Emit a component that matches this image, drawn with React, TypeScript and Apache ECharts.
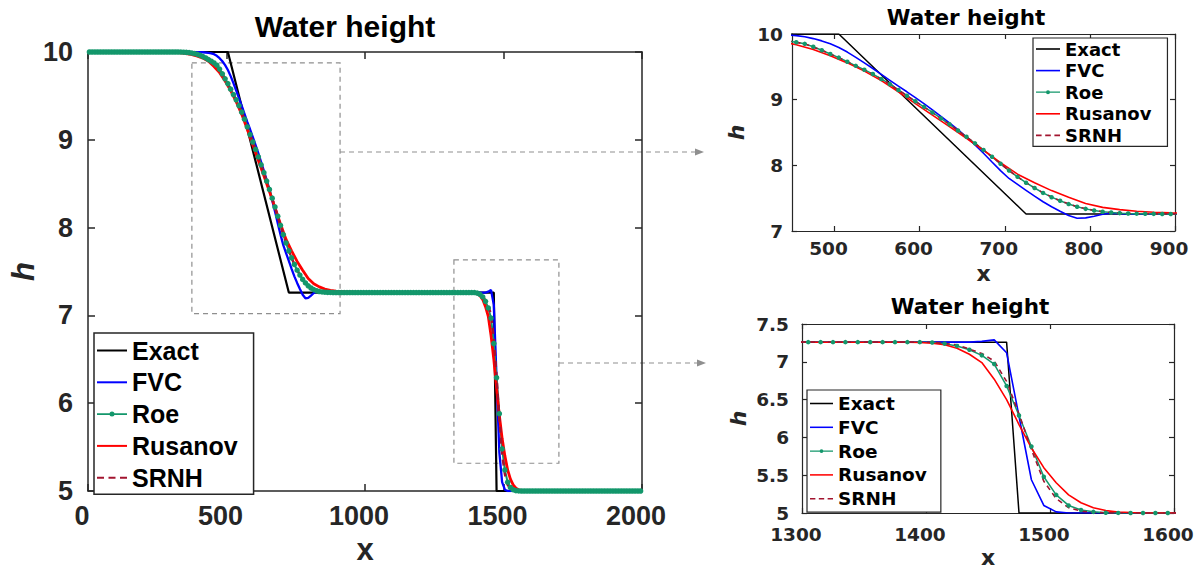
import React, { useEffect, useRef } from "react";
import * as echarts from "echarts";

// ---------- data ----------
const seriesNames = ["Exact", "FVC", "Roe", "Rusanov", "SRNH"];

const mainXTicks = [0, 500, 1000, 1500, 2000];
const mainYTicks = [5, 6, 7, 8, 9, 10];
const topXTicks = [500, 600, 700, 800, 900];
const topYTicks = [7, 8, 9, 10];
const bottomXTicks = [1300, 1400, 1500, 1600];
const bottomYTicks = [5, 5.5, 6, 6.5, 7, 7.5];

const exactData: number[][] = [
  [0, 10], [505, 10], [725, 7.26], [1465, 7.26], [1475, 5], [2000, 5],
];

const fvcData: number[][] = [
  [0, 10], [375, 10], [395, 9.999], [415, 9.997], [435, 9.99], [445, 9.985],
  [455, 9.975], [465, 9.957], [475, 9.93], [485, 9.895], [495, 9.85], [505, 9.795],
  [515, 9.725], [525, 9.645], [535, 9.56], [545, 9.475], [555, 9.385], [565, 9.295],
  [575, 9.205], [585, 9.12], [595, 9.03], [605, 8.94], [615, 8.845], [625, 8.745],
  [635, 8.645], [645, 8.545], [655, 8.43], [665, 8.31], [675, 8.185], [685, 8.05],
  [695, 7.92], [705, 7.8], [715, 7.71], [725, 7.62], [735, 7.53], [745, 7.445],
  [755, 7.37], [765, 7.3], [775, 7.235], [785, 7.195], [795, 7.2], [805, 7.225],
  [815, 7.255], [825, 7.27], [835, 7.265], [845, 7.26], [1435, 7.26], [1445, 7.27],
  [1455, 7.29], [1465, 7.12], [1475, 6.28], [1485, 5.44], [1495, 5.1], [1505, 5.015],
  [1515, 5], [2000, 5],
];

// Roe: one value per cell, cell centres 5, 15, ..., 1995
const roeFirstCell = 5;
const roeCellWidth = 10;
const roeValues: number[] = [
  10, 10, 10, 10, 10, 10, 10, 10, 10, 10,
  10, 10, 10, 10, 10, 10, 10, 10, 10, 10,
  10, 10, 10, 10, 10, 10, 10, 10, 10, 10,
  10, 10, 10, 9.999, 9.998, 9.996, 9.993, 9.988, 9.982, 9.973,
  9.962, 9.948, 9.932, 9.913, 9.895, 9.875, 9.85, 9.805, 9.752, 9.695,
  9.64, 9.577, 9.515, 9.455, 9.39, 9.315, 9.235, 9.148, 9.06, 8.975,
  8.89, 8.805, 8.715, 8.625, 8.53, 8.435, 8.335, 8.235, 8.13, 8.025,
  7.92, 7.825, 7.735, 7.655, 7.58, 7.515, 7.46, 7.41, 7.37, 7.337,
  7.312, 7.294, 7.281, 7.272, 7.267, 7.264, 7.262, 7.261, 7.26, 7.26,
  7.26, 7.26, 7.26, 7.26, 7.26, 7.26, 7.26, 7.26, 7.26, 7.26,
  7.26, 7.26, 7.26, 7.26, 7.26, 7.26, 7.26, 7.26, 7.26, 7.26,
  7.26, 7.26, 7.26, 7.26, 7.26, 7.26, 7.26, 7.26, 7.26, 7.26,
  7.26, 7.26, 7.26, 7.26, 7.26, 7.26, 7.26, 7.26, 7.26, 7.26,
  7.26, 7.26, 7.26, 7.26, 7.26, 7.26, 7.26, 7.26, 7.26, 7.26,
  7.255, 7.24, 7.21, 7.16, 7.085, 6.97, 6.68, 6.29, 5.88, 5.48,
  5.24, 5.1, 5.04, 5.015, 5.004, 5.001, 5, 5, 5, 5,
  5, 5, 5, 5, 5, 5, 5, 5, 5, 5,
  5, 5, 5, 5, 5, 5, 5, 5, 5, 5,
  5, 5, 5, 5, 5, 5, 5, 5, 5, 5,
  5, 5, 5, 5, 5, 5, 5, 5, 5, 5,
];

const rusanovData: number[][] = [
  [0, 10], [255, 10], [275, 9.999], [295, 9.998], [315, 9.995], [335, 9.99],
  [355, 9.982], [375, 9.97], [395, 9.953], [415, 9.93], [435, 9.895], [455, 9.835],
  [475, 9.765], [495, 9.67], [515, 9.56], [535, 9.435], [555, 9.29], [575, 9.12],
  [595, 8.94], [615, 8.765], [635, 8.59], [655, 8.41], [675, 8.23], [695, 8.04],
  [715, 7.865], [735, 7.735], [755, 7.615], [775, 7.515], [795, 7.42], [815, 7.36],
  [835, 7.325], [855, 7.3], [875, 7.285], [895, 7.276], [925, 7.27], [965, 7.265],
  [1000, 7.26], [1385, 7.258], [1395, 7.255], [1405, 7.245], [1415, 7.225], [1425, 7.18],
  [1435, 7.1], [1445, 6.99], [1455, 6.77], [1465, 6.5], [1475, 6.17], [1485, 5.86],
  [1495, 5.6], [1505, 5.4], [1515, 5.24], [1525, 5.135], [1535, 5.07], [1545, 5.032],
  [1555, 5.014], [1565, 5.006], [1575, 5.002], [1600, 5], [2000, 5],
];

const srnhData: number[][] = [
  [0, 10], [325, 10], [345, 9.998], [365, 9.993], [385, 9.982], [405, 9.962],
  [425, 9.932], [445, 9.895], [465, 9.85], [485, 9.752], [505, 9.64], [525, 9.515],
  [545, 9.39], [565, 9.235], [585, 9.06], [605, 8.89], [625, 8.715], [645, 8.53],
  [665, 8.335], [685, 8.13], [705, 7.92], [725, 7.735], [745, 7.58], [765, 7.46],
  [785, 7.37], [805, 7.312], [825, 7.281], [845, 7.267], [865, 7.262], [885, 7.26],
  [1395, 7.26], [1405, 7.258], [1425, 7.225], [1445, 7.11], [1455, 7.01], [1465, 6.74],
  [1475, 6.31], [1485, 5.84], [1495, 5.42], [1505, 5.19], [1515, 5.07], [1525, 5.025],
  [1535, 5.008], [1545, 5.002], [1555, 5], [2000, 5],
];

// zoom-window annotations in the main panel (data coordinates)
const zoomBoxUpper = [[375, 9.876], [910, 7.02]];
const zoomBoxLower = [[1321, 7.633], [1700, 5.316]];

// ---------- styling ----------
const FONT_MAIN = "'Liberation Sans', Arial, Helvetica, sans-serif";
const FONT_INSET = "'DejaVu Sans', 'Liberation Sans', sans-serif";
const AXIS_COLOR = "#262626";
const COLORS: Record<string, string> = {
  Exact: "#000000",
  FVC: "#0000ff",
  Roe: "#13976b",
  Rusanov: "#ff0000",
  SRNH: "#a2142f",
};
const ICON_LINE = "path://M0,6H30V8H0Z";
const ICON_DASH = "path://M0,6H7V8H0Z M11.5,6H18.5V8H11.5Z M23,6H30V8H23Z";
const ICON_ROE = "path://M0,6.2H30V7.8H0Z M12.5,7A2.5,2.5 0 1 1 17.5,7A2.5,2.5 0 1 1 12.5,7Z";
const ICONS: Record<string, string> = {
  Exact: ICON_LINE, FVC: ICON_LINE, Roe: ICON_ROE, Rusanov: ICON_LINE, SRNH: ICON_DASH,
};

type PanelStyle = {
  font: string;
  tickSize: number;
  nameSize: number;
  xMargin: number;
  yMargin: number;
  xNameGap: number;
  yNameGap: number;
  tickLen: number;
  axisWidth: number;
};

const plainNumber = (v: number) => String(v);

function makeAxes(
  gridIndex: number,
  xMin: number, xMax: number, xTicks: number[],
  yMin: number, yMax: number, yTicks: number[],
  s: PanelStyle
) {
  const line = { show: true, onZero: false, lineStyle: { color: AXIS_COLOR, width: s.axisWidth } };
  const tick = (vals: number[]) => ({
    show: true, inside: true, length: s.tickLen, customValues: vals,
    lineStyle: { color: AXIS_COLOR, width: s.axisWidth },
  });
  const label = (vals: number[], margin: number, pad: number[]) => ({
    show: true, customValues: vals, margin, fontFamily: s.font, fontSize: s.tickSize,
    fontWeight: "bold", color: AXIS_COLOR, padding: pad, formatter: plainNumber,
  });
  const nameStyle = (italic: boolean) => ({
    fontFamily: s.font, fontSize: s.nameSize, fontWeight: "bold",
    fontStyle: italic ? "italic" : "normal", color: AXIS_COLOR,
  });
  const xCommon = { type: "value", gridIndex, min: xMin, max: xMax, splitLine: { show: false }, axisLine: line, axisTick: tick(xTicks) };
  const yCommon = { type: "value", gridIndex, min: yMin, max: yMax, splitLine: { show: false }, axisLine: line, axisTick: tick(yTicks) };
  const xAxes = [
    {
      ...xCommon, position: "bottom", axisLabel: label(xTicks, s.xMargin, [0, 12, 0, 0]),
      name: "x", nameLocation: "middle", nameGap: s.xNameGap, nameTextStyle: nameStyle(false),
    },
    { ...xCommon, position: "top", axisLabel: { show: false } },
  ];
  const yAxes = [
    {
      ...yCommon, position: "left", axisLabel: label(yTicks, s.yMargin, [0, 0, 0, 0]),
      name: "h", nameLocation: "middle", nameRotate: 90, nameGap: s.yNameGap, nameTextStyle: nameStyle(true),
    },
    { ...yCommon, position: "right", axisLabel: { show: false } },
  ];
  return { xAxes, yAxes };
}

type LineWidths = { exact: number; fvc: number; roe: number; rus: number; srnh: number; roeSym: number; dash: number[] };

function panelSeries(panel: number, w: LineWidths, withBoxes: boolean) {
  const axisIdx = { xAxisIndex: panel * 2, yAxisIndex: panel * 2 };
  const common = { type: "line", silent: true, emphasis: { disabled: true }, animation: false, ...axisIdx };
  const roeData = roeValues.map((h, i) => [roeFirstCell + roeCellWidth * i, h]);
  const exact: any = {
    ...common, name: "Exact", data: exactData, symbol: "none",
    lineStyle: { color: COLORS.Exact, width: w.exact }, itemStyle: { color: COLORS.Exact },
  };
  if (withBoxes) {
    exact.markArea = {
      silent: true,
      label: { show: false },
      itemStyle: { color: "rgba(0,0,0,0)", borderColor: "#8f8f8f", borderWidth: 1.2, borderType: [5, 4] },
      data: [
        [{ coord: zoomBoxUpper[0] }, { coord: zoomBoxUpper[1] }],
        [{ coord: zoomBoxLower[0] }, { coord: zoomBoxLower[1] }],
      ],
    };
  }
  return [
    exact,
    {
      ...common, name: "FVC", data: fvcData, symbol: "none",
      lineStyle: { color: COLORS.FVC, width: w.fvc }, itemStyle: { color: COLORS.FVC },
    },
    {
      ...common, name: "Roe", data: roeData, symbol: "circle", symbolSize: w.roeSym, showSymbol: true,
      showAllSymbol: true,
      lineStyle: { color: COLORS.Roe, width: w.roe }, itemStyle: { color: COLORS.Roe, borderWidth: 0 },
    },
    {
      ...common, name: "Rusanov", data: rusanovData, symbol: "none",
      lineStyle: { color: COLORS.Rusanov, width: w.rus }, itemStyle: { color: COLORS.Rusanov },
    },
    {
      ...common, name: "SRNH", data: srnhData, symbol: "none",
      lineStyle: { color: COLORS.SRNH, width: w.srnh, type: w.dash }, itemStyle: { color: COLORS.SRNH },
    },
  ];
}

function makeLegend(left: number, top: number, padding: number[], itemWidth: number, itemHeight: number,
  itemGap: number, font: string, fontSize: number, borderWidth: number) {
  return {
    orient: "vertical", left, top, padding, itemWidth, itemHeight, itemGap,
    selectedMode: false, backgroundColor: "#ffffff", borderColor: AXIS_COLOR, borderWidth,
    textStyle: { fontFamily: font, fontSize, lineHeight: fontSize, fontWeight: "bold", color: "#000" },
    data: seriesNames.map((n) => ({ name: n, icon: ICONS[n], itemStyle: { color: COLORS[n] } })),
  };
}

export default function App() {
  const ref = useRef<HTMLDivElement>(null);

  useEffect(() => {
    if (!ref.current) return;
    const chart = echarts.init(ref.current, undefined, { renderer: "svg" });

    const mainStyle: PanelStyle = {
      font: FONT_MAIN, tickSize: 27, nameSize: 31, xMargin: 11, yMargin: 15,
      xNameGap: 43, yNameGap: 41, tickLen: 7, axisWidth: 1.5,
    };
    const topStyle: PanelStyle = {
      font: FONT_INSET, tickSize: 18.5, nameSize: 22, xMargin: 8, yMargin: 9,
      xNameGap: 31, yNameGap: 45, tickLen: 5, axisWidth: 1.2,
    };
    const bottomStyle: PanelStyle = {
      font: FONT_INSET, tickSize: 18.5, nameSize: 22, xMargin: 12, yMargin: 13,
      xNameGap: 33, yNameGap: 53, tickLen: 5, axisWidth: 1.2,
    };

    const a0 = makeAxes(0, 0, 2000, mainXTicks, 5, 10, mainYTicks, mainStyle);
    const a1 = makeAxes(1, 450, 900, topXTicks, 7, 10, topYTicks, topStyle);
    const a2 = makeAxes(2, 1300, 1600, bottomXTicks, 5, 7.5, bottomYTicks, bottomStyle);

    const mainW: LineWidths = { exact: 2.2, fvc: 2.3, roe: 2, rus: 2.8, srnh: 2.4, roeSym: 5.5, dash: [6, 5] };
    const insetW: LineWidths = { exact: 1.5, fvc: 1.6, roe: 1.5, rus: 1.6, srnh: 1.6, roeSym: 4.5, dash: [5, 4] };

    const arrowStyle = { stroke: "#8f8f8f", lineWidth: 1.2, lineDash: [5, 4] };

    const option: any = {
      animation: false,
      backgroundColor: "#ffffff",
      title: [
        { text: "Water height", left: 345, top: 11, textAlign: "center", padding: 0,
          textStyle: { fontFamily: FONT_MAIN, fontSize: 30, fontWeight: "bold", color: "#000" } },
        { text: "Water height", left: 966, top: 6, textAlign: "center", padding: 0,
          textStyle: { fontFamily: FONT_INSET, fontSize: 21.5, fontWeight: "bold", color: "#000" } },
        { text: "Water height", left: 970, top: 295, textAlign: "center", padding: 0,
          textStyle: { fontFamily: FONT_INSET, fontSize: 21.5, fontWeight: "bold", color: "#000" } },
      ],
      grid: [
        { left: 88, top: 52, width: 554, height: 443, containLabel: false },
        { left: 792, top: 34, width: 383, height: 197, containLabel: false },
        { left: 802, top: 324, width: 372, height: 189, containLabel: false },
      ],
      xAxis: [...a0.xAxes, ...a1.xAxes, ...a2.xAxes],
      yAxis: [...a0.yAxes, ...a1.yAxes, ...a2.yAxes],
      legend: [
        makeLegend(94, 333, [5, 16, 4, 3], 30, 14, 6.8, FONT_MAIN, 25, 1.5),
        makeLegend(1033, 38, [2, 16, 2, 3], 24, 12, 3.6, FONT_INSET, 18, 1.2),
        makeLegend(807, 390, [4, 14, 4, 3], 23, 12, 4.8, FONT_INSET, 18.5, 1.2),
      ],
      series: [
        ...panelSeries(0, mainW, true),
        ...panelSeries(1, insetW, false),
        ...panelSeries(2, insetW, false),
      ],
      graphic: [
        { type: "line", silent: true, shape: { x1: 340, y1: 152, x2: 697, y2: 152 }, style: arrowStyle },
        { type: "polygon", silent: true, shape: { points: [[695, 148.5], [704, 152], [695, 155.5]] },
          style: { fill: "#8f8f8f" } },
        { type: "line", silent: true, shape: { x1: 559, y1: 363, x2: 699, y2: 363 }, style: arrowStyle },
        { type: "polygon", silent: true, shape: { points: [[697, 359.5], [706, 363], [697, 366.5]] },
          style: { fill: "#8f8f8f" } },
      ],
    };

    chart.setOption(option);
    return () => {
      chart.dispose();
    };
  }, []);

  return (
    <div
      ref={ref}
      style={{ position: "absolute", left: 0, top: 0, width: 1202, height: 570, background: "#fff" }}
    />
  );
}
